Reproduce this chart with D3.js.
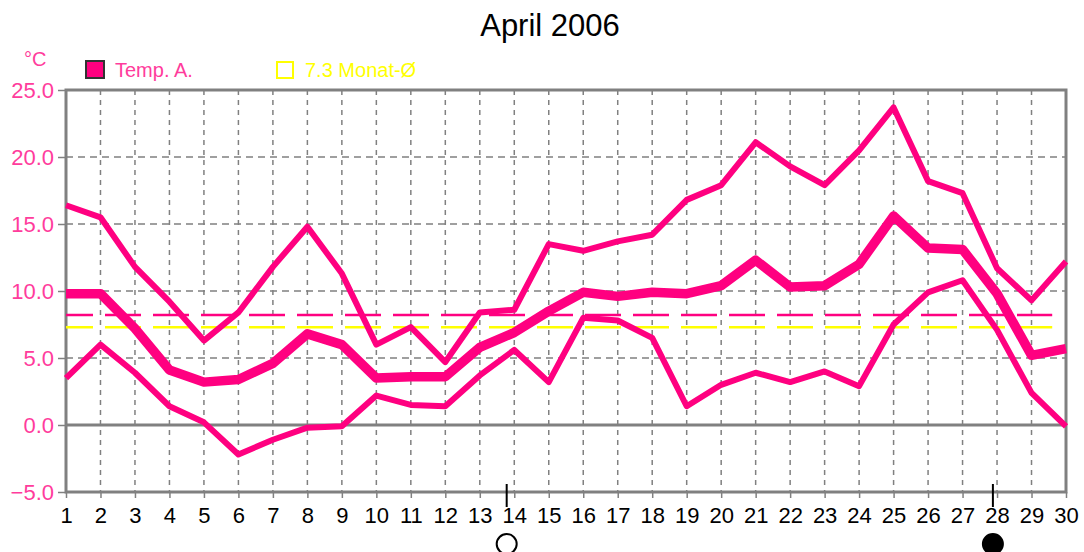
<!DOCTYPE html>
<html>
<head>
<meta charset="utf-8">
<script src="https://cdn.jsdelivr.net/npm/d3@7"></script>
<style>
  body { margin: 0; background: #fff; }
  text { font-family: "Liberation Sans", Arial, sans-serif; }
</style>
</head>
<body>
<div id="chart"></div>
<script>
const WIDTH = 1084, HEIGHT = 552;
const M = { top: 90, right: 18, bottom: 60, left: 66 };
const innerW = WIDTH - M.left - M.right;
const innerH = HEIGHT - M.top - M.bottom;

// data
const days = d3.range(1, 31);
const tMax  = [16.4, 15.5, 11.8, 9.2, 6.3, 8.4, 11.8, 14.8, 11.3, 6.0, 7.3, 4.7, 8.4, 8.6, 13.5, 13.0, 13.7, 14.2, 16.8, 17.9, 21.1, 19.3, 17.9, 20.5, 23.7, 18.2, 17.3, 11.7, 9.3, 12.2];
const tMean = [9.8, 9.8, 7.2, 4.1, 3.2, 3.4, 4.6, 6.8, 6.0, 3.5, 3.6, 3.6, 5.8, 6.9, 8.5, 9.9, 9.6, 9.9, 9.8, 10.4, 12.3, 10.3, 10.4, 12.0, 15.6, 13.2, 13.1, 9.8, 5.2, 5.7];
const tMin  = [3.5, 6.0, 3.9, 1.4, 0.2, -2.2, -1.1, -0.2, -0.1, 2.2, 1.5, 1.4, 3.7, 5.6, 3.2, 8.0, 7.8, 6.5, 1.4, 3.0, 3.9, 3.2, 4.0, 2.9, 7.5, 9.9, 10.8, 7.1, 2.4, -0.1];
const monthAvg = 7.3;
const longAvg = 8.2;
const yTicks = [-5, 0, 5, 10, 15, 20, 25];
const moonDays = [13.78, 27.88];
const moonKinds = ["full", "new"];

const PINK = "#ff0080", TXTPINK = "#ff3c9c", GRAY = "#808080", YEL = "#ffff00";

const svg = d3.select("#chart").append("svg")
  .attr("width", WIDTH).attr("height", HEIGHT);
const g = svg.append("g").attr("transform", `translate(${M.left},${M.top})`);

const x = d3.scaleLinear().domain([1, 30]).range([0, innerW]);
const y = d3.scaleLinear().domain([-5, 25]).range([innerH, 0]);

// grid
g.append("g").selectAll("line").data(days.slice(1, -1)).join("line")
  .attr("x1", d => x(d)).attr("x2", d => x(d))
  .attr("y1", 0).attr("y2", innerH)
  .attr("stroke", GRAY).attr("stroke-width", 1.5).attr("stroke-dasharray", "5,5");
g.append("g").selectAll("line").data([5, 10, 15, 20]).join("line")
  .attr("x1", 0).attr("x2", innerW)
  .attr("y1", d => y(d)).attr("y2", d => y(d))
  .attr("stroke", GRAY).attr("stroke-width", 1.5).attr("stroke-dasharray", "7,5");

// zero line
g.append("line").attr("x1", 0).attr("x2", innerW)
  .attr("y1", y(0)).attr("y2", y(0))
  .attr("stroke", GRAY).attr("stroke-width", 3);

// axes
const yAxis = g.append("g")
  .call(d3.axisLeft(y).tickValues(yTicks).tickFormat(d3.format(".1f")).tickSize(8).tickPadding(4));
yAxis.select(".domain").remove();
yAxis.selectAll("line").attr("stroke", GRAY).attr("stroke-width", 1.5);
yAxis.selectAll("text").attr("fill", TXTPINK).style("font-size", "22px")
  .style("font-family", "'Liberation Sans', Arial, sans-serif");

const xAxis = g.append("g").attr("transform", `translate(0,${innerH})`)
  .call(d3.axisBottom(x).tickValues(days).tickFormat(d3.format("d")).tickSize(6).tickPadding(9));
xAxis.select(".domain").remove();
xAxis.selectAll("line").attr("stroke", GRAY).attr("stroke-width", 1.5);
xAxis.selectAll("text").attr("fill", "#000").style("font-size", "22px")
  .style("font-family", "'Liberation Sans', Arial, sans-serif");

// frame
g.append("rect").attr("x", 0).attr("y", 0).attr("width", innerW).attr("height", innerH)
  .attr("fill", "none").attr("stroke", GRAY).attr("stroke-width", 3);

// average lines
[[longAvg, PINK], [monthAvg, YEL]].forEach(([v, c]) => {
  g.append("line").attr("x1", 0).attr("x2", x(29.6))
    .attr("y1", y(v)).attr("y2", y(v))
    .attr("stroke", c).attr("stroke-width", 2.5)
    .attr("stroke-dasharray", "36,12").attr("stroke-dashoffset", 9);
});

// temperature lines
const line = d3.line().x((d, i) => x(days[i])).y(d => y(d));
[[tMax, 6], [tMin, 6], [tMean, 9.5]].forEach(([s, w]) => {
  g.append("path").datum(s).attr("d", line)
    .attr("fill", "none").attr("stroke", PINK).attr("stroke-width", w)
    .attr("stroke-linejoin", "round").attr("stroke-linecap", "butt");
});

// moon phases
moonDays.forEach((d, i) => {
  g.append("line").attr("x1", x(d)).attr("x2", x(d))
    .attr("y1", innerH - 8).attr("y2", innerH + 15)
    .attr("stroke", "#000").attr("stroke-width", 2);
  g.append("circle").attr("cx", x(d)).attr("cy", innerH + 52).attr("r", 10)
    .attr("fill", moonKinds[i] === "new" ? "#000" : "#fff")
    .attr("stroke", "#000").attr("stroke-width", 2);
});

// title
svg.append("text").attr("x", 550).attr("y", 36).attr("text-anchor", "middle")
  .style("font-size", "31px").attr("fill", "#000").text("April 2006");

// unit
svg.append("text").attr("x", 24).attr("y", 66)
  .style("font-size", "20px").attr("fill", TXTPINK).text("°C");

// legend
svg.append("rect").attr("x", 86).attr("y", 61).attr("width", 18).attr("height", 17)
  .attr("fill", PINK).attr("stroke", "#333").attr("stroke-width", 2);
svg.append("text").attr("x", 115).attr("y", 77)
  .style("font-size", "20px").attr("fill", TXTPINK).text("Temp. A.");
svg.append("rect").attr("x", 277).attr("y", 62).attr("width", 16).attr("height", 16)
  .attr("fill", "none").attr("stroke", YEL).attr("stroke-width", 2);
svg.append("text").attr("x", 305).attr("y", 77)
  .style("font-size", "20px").attr("fill", YEL).text(monthAvg.toFixed(1) + " Monat-Ø");
</script>
</body>
</html>
